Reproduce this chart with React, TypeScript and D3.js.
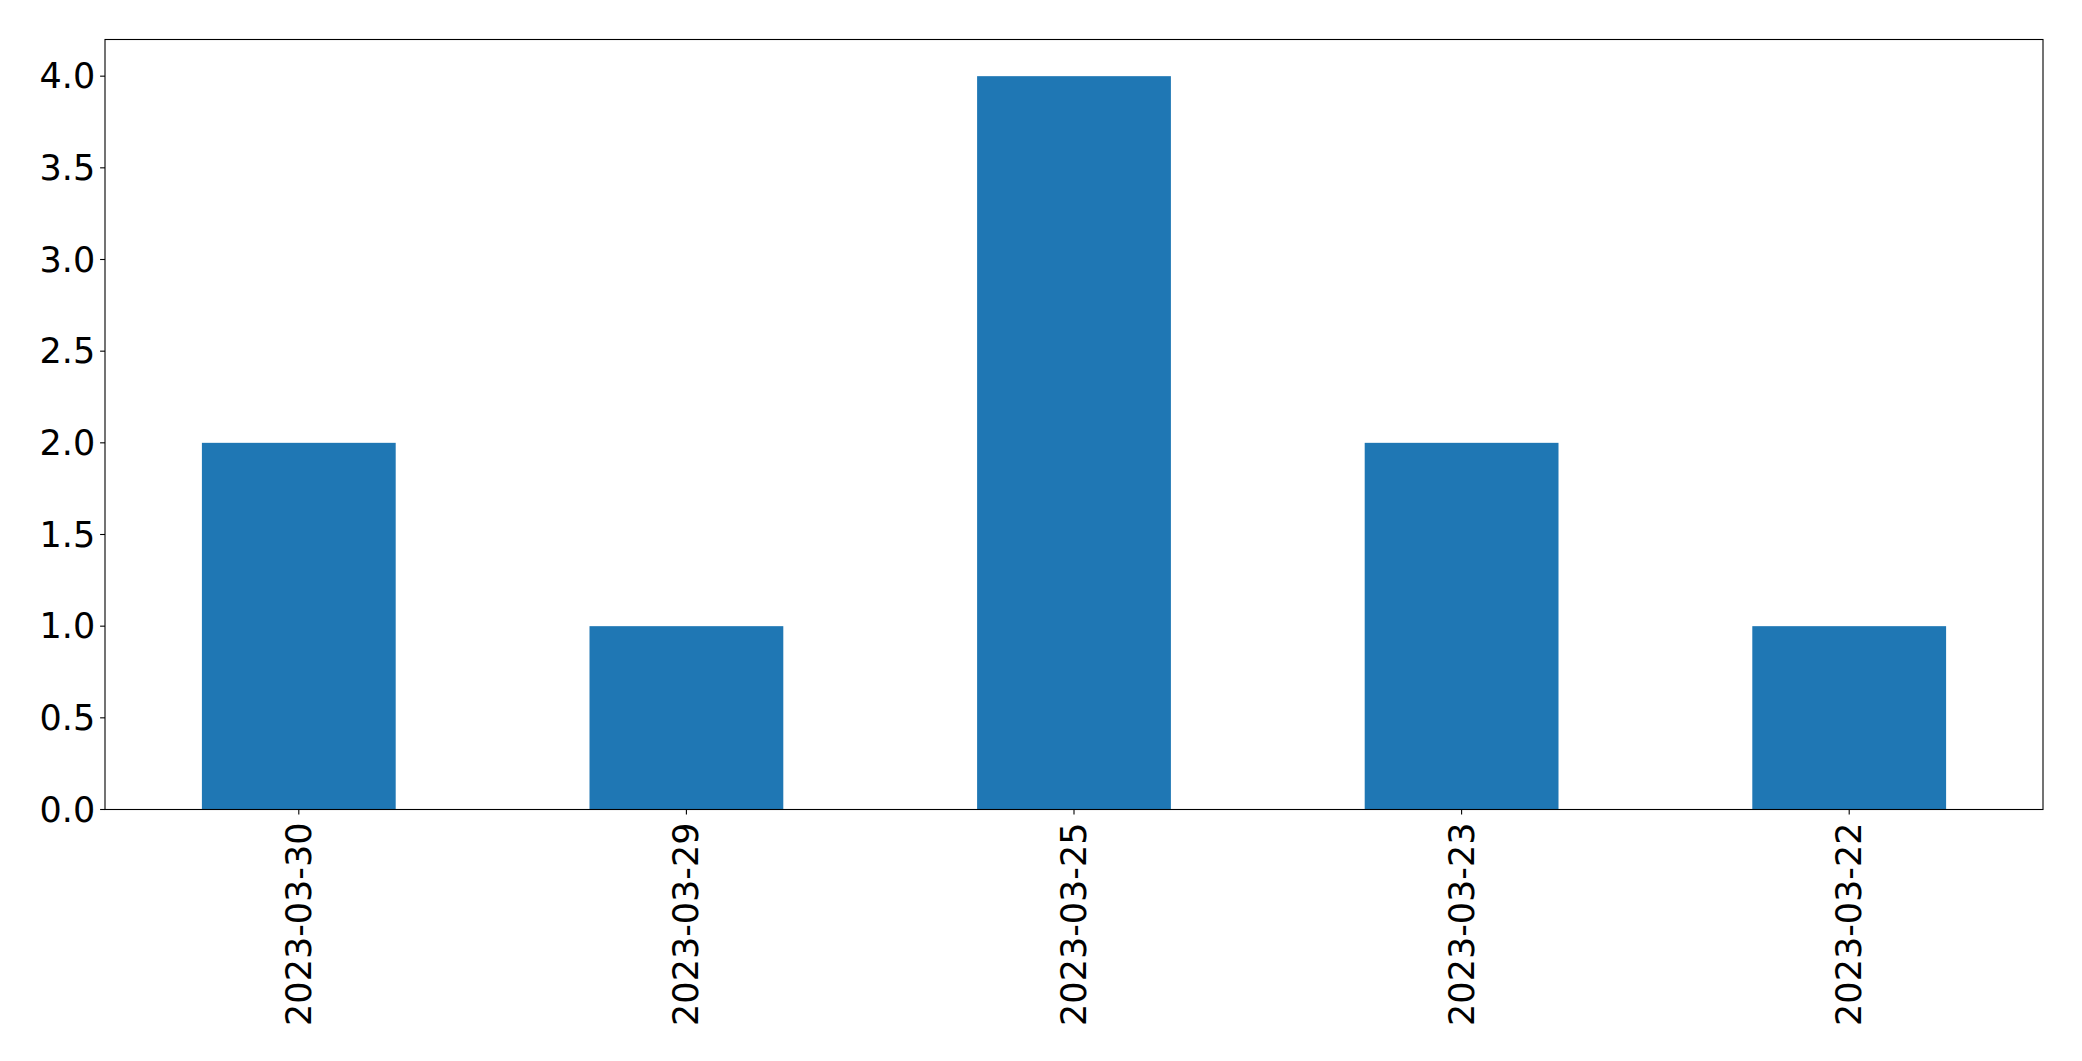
import React from "react";
import * as d3 from "d3";

const categories = ["2023-03-30", "2023-03-29", "2023-03-25", "2023-03-23", "2023-03-22"];
const values = [2, 1, 4, 2, 1];
const yTicks = [0, 0.5, 1, 1.5, 2, 2.5, 3, 3.5, 4];

export default function App() {
  const W = 2082, H = 1061;
  const left = 105, right = 2043, top = 39.5, bottom = 809.5;
  const x = d3.scaleLinear().domain([-0.5, categories.length - 0.5]).range([left, right]);
  const y = d3.scaleLinear().domain([0, 4.2]).range([bottom, top]);
  const fs = 35;
  const font = "DejaVu Sans";
  return (
    <svg width={W} height={H} style={{ position: "absolute", left: 0, top: 0, background: "#fff" }}>
      <rect x={0} y={0} width={W} height={H} fill="#fff" />
      {values.map((v, i) => (
        <rect key={i} x={x(i - 0.25)} y={y(v)} width={x(i + 0.25) - x(i - 0.25)} height={y(0) - y(v)} fill="#1f77b4" />
      ))}
      <rect x={left} y={top} width={right - left} height={bottom - top} fill="none" stroke="#000" strokeWidth={1.1} />
      {yTicks.map((t) => (
        <g key={t}>
          <line x1={left - 4.9} x2={left} y1={y(t)} y2={y(t)} stroke="#000" strokeWidth={1.1} />
          <text x={left - 9.8} y={y(t)} textAnchor="end" dominantBaseline="central" fontFamily={font} fontSize={fs} fill="#000">
            {t.toFixed(1)}
          </text>
        </g>
      ))}
      {categories.map((c, i) => (
        <g key={c}>
          <line x1={x(i)} x2={x(i)} y1={bottom} y2={bottom + 4.9} stroke="#000" strokeWidth={1.1} />
          <text
            transform={`translate(${x(i)},${bottom + 13}) rotate(-90)`}
            textAnchor="end"
            dominantBaseline="central"
            fontFamily={font}
            fontSize={fs}
            fill="#000"
          >
            {c}
          </text>
        </g>
      ))}
    </svg>
  );
}
